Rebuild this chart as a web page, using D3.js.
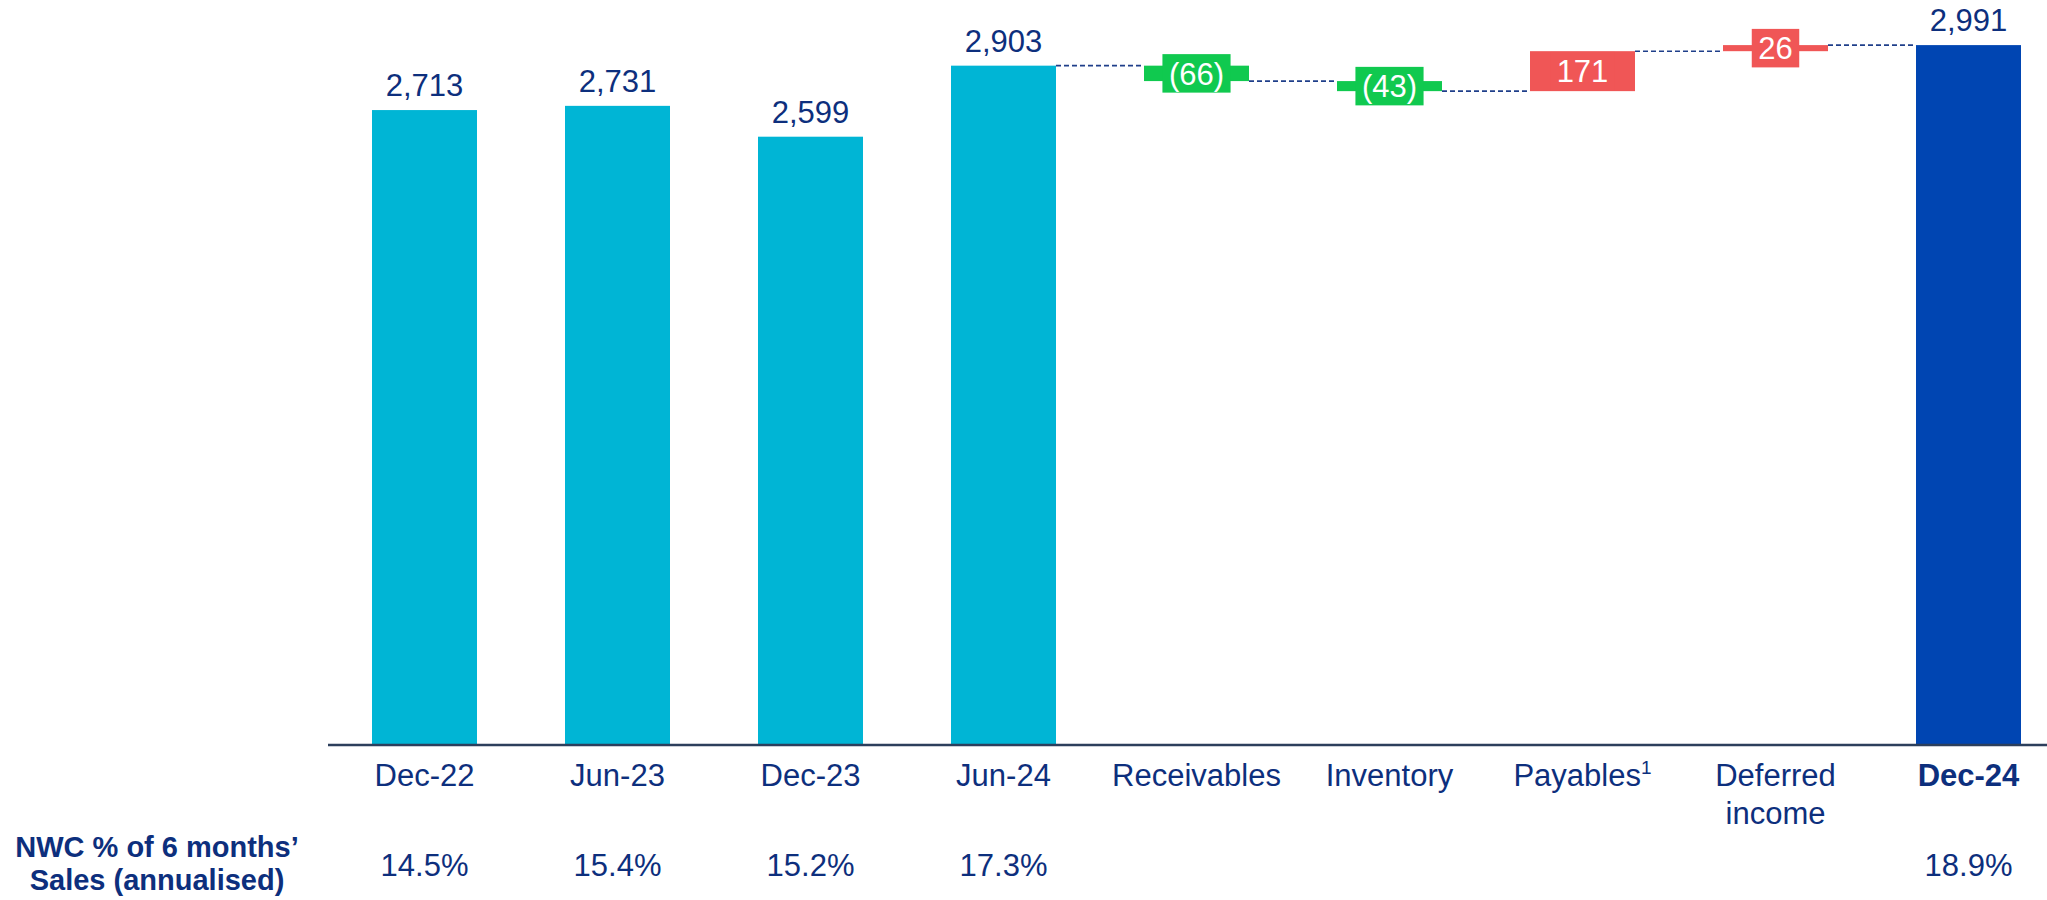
<!DOCTYPE html>
<html>
<head>
<meta charset="utf-8">
<script src="https://cdn.jsdelivr.net/npm/d3@7"></script>
<style>
  html, body { margin: 0; padding: 0; background: #ffffff; }
  svg { display: block; font-family: "Liberation Sans", Arial, sans-serif; }
</style>
</head>
<body>
<svg id="chart" width="2047" height="900"></svg>
<script>
// Net working capital bridge (EUR m)
const categories = ["Dec-22", "Jun-23", "Dec-23", "Jun-24", "Receivables", "Inventory", "Payables", "Deferred income", "Dec-24"];
const values = [2713, 2731, 2599, 2903, -66, -43, 171, 26, 2991];
const kinds = ["total", "total", "total", "total", "delta", "delta", "delta", "delta", "end"];
const nwcPct = ["14.5%", "15.4%", "15.2%", "17.3%", "", "", "", "", "18.9%"];
const rowTitle = ["NWC % of 6 months\u2019", "Sales (annualised)"];

const W = 2047, H = 900;
const baseY = 744;
const navy = "#0d2f7d";
const colors = { total: "#00b5d5", end: "#0045b2", up: "#f05656", down: "#10c94f" };
const fontSize = 31;

const svg = d3.select("#chart");

const x = d3.scaleBand()
  .domain(categories)
  .range([328, 2065])
  .paddingInner(0.456)
  .paddingOuter(0.228);

const y = d3.scaleLinear().domain([0, 3000]).range([baseY, 43]);

// Build bar extents: totals rise from zero, deltas float on the running level
let level = 0;
const bars = categories.map((c, i) => {
  const v = values[i];
  let y0, y1, fill;
  if (kinds[i] === "delta") {
    y0 = level; y1 = level + v; level = y1;
    fill = v < 0 ? colors.down : colors.up;
  } else {
    y0 = 0; y1 = v; level = v;
    fill = kinds[i] === "end" ? colors.end : colors.total;
  }
  return { cat: c, v, kind: kinds[i], lo: Math.min(y0, y1), hi: Math.max(y0, y1), start: y0, end: y1, fill };
});

// Dashed connectors between consecutive bridge steps
const bridgeStart = categories.indexOf("Jun-24");
const connectors = [];
for (let i = bridgeStart; i < bars.length - 1; i++) {
  connectors.push({ from: bars[i], to: bars[i + 1], val: bars[i].end });
}
svg.append("g").selectAll("line").data(connectors).join("line")
  .attr("x1", d => x(d.from.cat) + x.bandwidth())
  .attr("x2", d => x(d.to.cat))
  .attr("y1", d => y(d.val))
  .attr("y2", d => y(d.val))
  .attr("stroke", "#1f3f8a")
  .attr("stroke-width", 1.6)
  .attr("stroke-dasharray", "5,3");

// Bars
svg.append("g").selectAll("rect").data(bars).join("rect")
  .attr("x", d => x(d.cat))
  .attr("width", x.bandwidth())
  .attr("y", d => y(d.hi))
  .attr("height", d => Math.max(1, y(d.lo) - y(d.hi)))
  .attr("fill", d => d.fill);

// Value labels above the balance bars
const fmt = d3.format(",");
svg.append("g").selectAll("text").data(bars.filter(d => d.kind !== "delta")).join("text")
  .attr("x", d => x(d.cat) + x.bandwidth() / 2)
  .attr("y", d => y(d.hi) - 14)
  .attr("text-anchor", "middle")
  .attr("font-size", fontSize)
  .attr("fill", navy)
  .text(d => fmt(d.v));

// Labels on the bridge steps, set on a box of the step's colour
const deltaG = svg.append("g");
bars.filter(d => d.kind === "delta").forEach(d => {
  const cx = x(d.cat) + x.bandwidth() / 2;
  const cy = (y(d.lo) + y(d.hi)) / 2;
  const label = d.v < 0 ? "(" + fmt(-d.v) + ")" : fmt(d.v);
  const box = deltaG.append("rect").attr("fill", d.fill);
  const t = deltaG.append("text")
    .attr("x", cx)
    .attr("y", cy + fontSize * 0.36)
    .attr("text-anchor", "middle")
    .attr("font-size", fontSize)
    .attr("fill", "#ffffff")
    .text(label);
  const tw = t.node().getComputedTextLength();
  const bw = tw + 13, bh = 38.5;
  box.attr("x", cx - bw / 2).attr("y", cy - bh / 2).attr("width", bw).attr("height", bh);
});

// Category axis line
svg.append("line")
  .attr("x1", 328).attr("x2", W)
  .attr("y1", baseY + 1).attr("y2", baseY + 1)
  .attr("stroke", "#2c3f5c")
  .attr("stroke-width", 2.6);

// Category labels
const catG = svg.append("g");
categories.forEach((c, i) => {
  const cx = x(c) + x.bandwidth() / 2;
  const t = catG.append("text")
    .attr("x", cx)
    .attr("y", 786)
    .attr("text-anchor", "middle")
    .attr("font-size", fontSize)
    .attr("fill", navy)
    .attr("font-weight", kinds[i] === "end" ? "bold" : "normal");
  if (c === "Deferred income") {
    t.append("tspan").attr("x", cx).attr("dy", 0).text("Deferred");
    t.append("tspan").attr("x", cx).attr("dy", 38).text("income");
  } else if (c === "Payables") {
    t.append("tspan").text("Payables");
    t.append("tspan").attr("font-size", 19).attr("dy", -12).text("1");
  } else {
    t.text(c);
  }
});

// NWC ratio row
svg.append("g").selectAll("text").data(categories.map((c, i) => ({ c, p: nwcPct[i] })).filter(d => d.p)).join("text")
  .attr("x", d => x(d.c) + x.bandwidth() / 2)
  .attr("y", 876)
  .attr("text-anchor", "middle")
  .attr("font-size", fontSize)
  .attr("fill", navy)
  .text(d => d.p);

svg.append("g").selectAll("text").data(rowTitle).join("text")
  .attr("x", 157)
  .attr("y", (d, i) => 857 + i * 33)
  .attr("text-anchor", "middle")
  .attr("font-size", 29)
  .attr("font-weight", "bold")
  .attr("fill", navy)
  .text(d => d);
</script>
</body>
</html>
